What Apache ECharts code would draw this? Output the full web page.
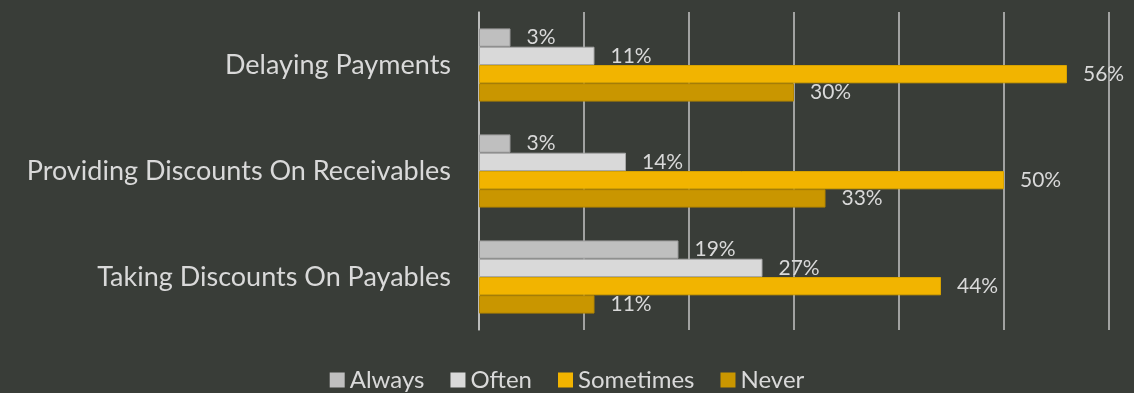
<!DOCTYPE html>
<html>
<head>
<meta charset="utf-8">
<style>
  html, body { margin: 0; padding: 0; background: #393d38; }
  #chart { width: 1134px; height: 393px; }
</style>
<script src="https://cdn.jsdelivr.net/npm/echarts@6/dist/echarts.min.js"></script>
</head>
<body>
<div id="chart"></div>
<script>
// Categories listed top to bottom
const categories = ['Delaying Payments', 'Providing Discounts On Receivables', 'Taking Discounts On Payables'];
const seriesNames = ['Always', 'Often', 'Sometimes', 'Never'];
const always = [3, 3, 19];
const often = [11, 14, 27];
const sometimes = [56, 50, 44];
const never = [30, 33, 11];
const seriesValues = [always, often, sometimes, never];
const colors = ['#bfbfbf', '#d9d9d9', '#f2b400', '#c99600'];
const borders = ['#9a9a9a', '#a8a8a8', '#d6a200', '#b48600'];

const FONT = 'Lato, "Open Sans", sans-serif';
const chart = echarts.init(document.getElementById('chart'));

chart.setOption({
  backgroundColor: '#393d38',
  animation: false,
  textStyle: { fontFamily: FONT },
  grid: { left: 479, right: 25, top: 12, bottom: 63, containLabel: false },
  legend: {
    bottom: -4,
    left: 'center',
    itemWidth: 15,
    itemHeight: 15,
    itemGap: 26,
    icon: 'rect',
    itemStyle: { borderWidth: 0 },
    textStyle: { color: '#d9d9d9', fontSize: 24, fontFamily: FONT },
    data: seriesNames
  },
  xAxis: {
    type: 'value',
    min: 0,
    max: 60,
    interval: 10,
    axisLabel: { show: false },
    axisLine: { show: false },
    axisTick: { show: false },
    splitLine: { lineStyle: { color: '#c4c4c4', width: 1.5 } }
  },
  yAxis: {
    type: 'category',
    inverse: true,
    data: categories,
    axisLine: { show: true, lineStyle: { color: '#c4c4c4', width: 1.5 } },
    axisTick: { show: false },
    axisLabel: { color: '#d9d9d9', fontSize: 27, margin: 28, fontFamily: FONT }
  },
  series: seriesNames.map((name, i) => ({
    name,
    type: 'bar',
    data: seriesValues[i],
    barGap: '0%',
    barCategoryGap: '31%',
    itemStyle: { color: colors[i], borderColor: borders[i], borderWidth: 1 },
    label: {
      show: true,
      position: 'right',
      distance: 16,
      formatter: '{c}%',
      color: '#d9d9d9',
      fontSize: 21,
      fontFamily: FONT
    }
  }))
});
</script>
</body>
</html>
